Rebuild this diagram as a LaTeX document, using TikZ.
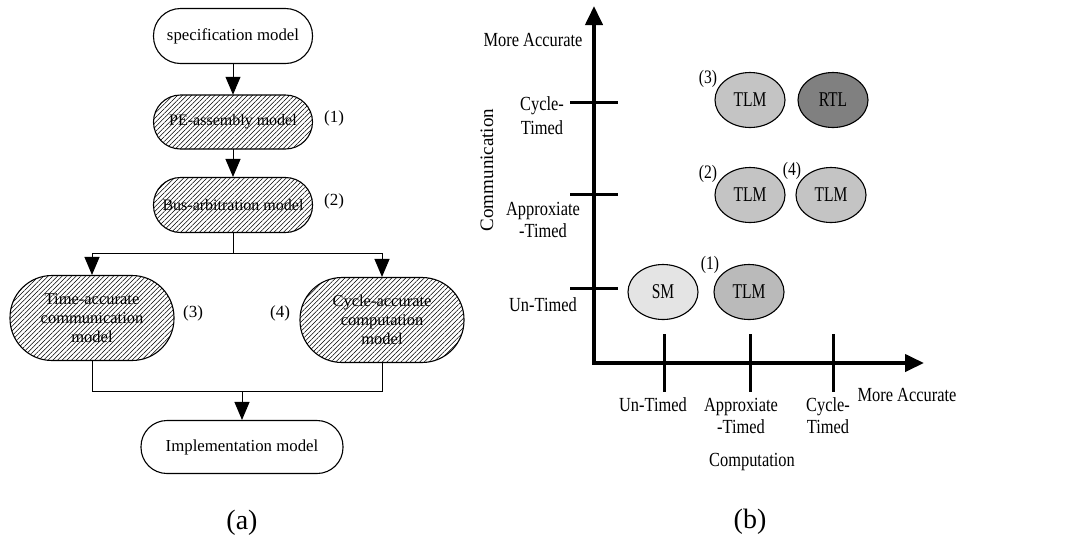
\documentclass[tikz,border=0pt]{standalone}
\usepackage{fontspec}
\setmainfont{Liberation Serif}
\newfontfamily\narrowserif[FakeStretch=0.82]{Liberation Serif}
\newfontfamily\tightserif[FakeStretch=0.74]{Liberation Serif}
\usetikzlibrary{arrows.meta,patterns.meta,shapes.geometric}
\definecolor{smfill}{RGB}{228,228,228}
\definecolor{tlmfill}{RGB}{196,196,196}
\definecolor{tlmdark}{RGB}{186,186,186}
\definecolor{rtlfill}{RGB}{128,128,128}
\begin{document}
\begin{tikzpicture}[x=1pt,y=-1pt,
  txt/.style={font=\fontsize{16}{19}\selectfont},
  bigtxt/.style={font=\fontsize{16.8}{19}\selectfont},
  plain/.style={draw, line width=1.1pt, rounded corners=27pt, minimum width=159pt,
    minimum height=55pt, inner sep=0pt, bigtxt},
  hatched/.style={draw, line width=1.1pt,
    pattern={Lines[angle=45, distance=3.3pt, line width=0.5pt]}, inner sep=0pt,
    txt, align=center},
  flow/.style={line width=1pt, -{Triangle[length=18pt,width=15pt]}},
  link/.style={line width=1pt},
  tag/.style={font=\fontsize{17}{20}\selectfont, inner sep=0pt},
  axis/.style={line width=4pt, {Triangle[length=19pt,width=17pt]}-{Triangle[length=19pt,width=17pt]}},
  tickline/.style={line width=3pt},
  ell/.style={ellipse, draw, line width=1.1pt, minimum width=70pt, minimum height=55pt,
    inner sep=0pt, font=\tightserif\fontsize{21}{24}\selectfont},
  lab/.style={font=\narrowserif\fontsize{20}{22}\selectfont, align=center, inner sep=0pt},
  num/.style={font=\narrowserif\fontsize{19}{20}\selectfont, inner sep=0pt},
  captxt/.style={font=\fontsize{28}{30}\selectfont, inner sep=0pt}]
\useasboundingbox (0,0) rectangle (1070,539);

% ---------- (a) refinement flow ----------
\node[plain] (spec) at (233,36) {specification model};
\node[hatched, minimum width=159pt, minimum height=54pt, rounded corners=27pt] (pe) at (233,122) {PE-assembly model};
\node[hatched, minimum width=159pt, minimum height=55pt, rounded corners=27pt] (bus) at (233,205) {Bus-arbitration model};
\node[hatched, minimum width=164pt, minimum height=85pt, rounded corners=42pt, font=\fontsize{16.5}{19}\selectfont] (tac) at (92,318)
  {Time-accurate\\communication\\model};
\node[hatched, minimum width=164pt, minimum height=85pt, rounded corners=42pt, font=\fontsize{16.5}{19}\selectfont] (cac) at (382,320)
  {Cycle-accurate\\computation\\model};
\node[plain, minimum width=202pt, minimum height=53pt, rounded corners=26pt] (impl) at (242,447) {Implementation model};

\node[tag] (t1) at (334,118) {(1)};
\node[tag] (t2) at (334,201) {(2)};
\node[tag] (t3) at (193,313) {(3)};
\node[tag] (t4) at (280,313) {(4)};

\coordinate (split) at (233,253);
\coordinate (join) at (242,391);
\draw[flow] (spec) -- (pe);
\draw[flow] (pe) -- (bus);
\draw[link] (bus) -- (split);
\draw[flow] (split) -| (tac.north);
\draw[flow] (split) -| (cac.north);
\draw[link] (tac.south) |- (join);
\draw[link] (cac.south) |- (join);
\draw[flow] (join) -- (impl);

\node[captxt] (capa) at (242,523) {(a)};

% ---------- (b) model space ----------
\coordinate (O) at (594,363);
\coordinate (ytip) at (594,6);
\coordinate (xtip) at (924,363);
\draw[axis] (ytip) -- (O) -- (xtip);

% communication ticks
\draw[tickline] (570,102) -- (618,102);
\draw[tickline] (570,194) -- (618,194);
\draw[tickline] (570,288) -- (618,288);
% computation ticks
\draw[tickline] (664,334) -- (664,392);
\draw[tickline] (750,334) -- (750,392);
\draw[tickline] (833,334) -- (833,392);

\node[lab] (ma1) at (533,40) {More Accurate};
\node[lab, font=\narrowserif\fontsize{20}{24}\selectfont] (ct1) at (542,116) {Cycle-\\Timed};
\node[lab] (at1) at (543,220) {Approxiate\\-Timed};
\node[lab] (ut1) at (543,305) {Un-Timed};
\node[lab, rotate=90, font=\fontsize{19}{22}\selectfont] (comm) at (487,170) {Communication};

\node[lab] (ut2) at (653,405) {Un-Timed};
\node[lab] (at2) at (741,416) {Approxiate\\-Timed};
\node[lab] (ct2) at (828,416) {Cycle-\\Timed};
\node[lab] (ma2) at (907,395) {More Accurate};
\node[lab] (compu) at (752,462) {Computation};

\node[ell, fill=smfill] (sm) at (663,292) {SM};
\node[ell, fill=tlmdark] (tlm1) at (749,292) {TLM};
\node[ell, fill=tlmfill] (tlm2) at (750,195) {TLM};
\node[ell, fill=tlmfill] (tlm4) at (831,195) {TLM};
\node[ell, fill=tlmfill] (tlm3) at (750,100) {TLM};
\node[ell, fill=rtlfill] (rtl) at (833,100) {RTL};

\node[num] (n1) at (710,265) {(1)};
\node[num] (n2) at (708,174) {(2)};
\node[num] (n3) at (708,79) {(3)};
\node[num] (n4) at (792,171) {(4)};

\node[captxt] (capb) at (750,522) {(b)};
\end{tikzpicture}
\end{document}
